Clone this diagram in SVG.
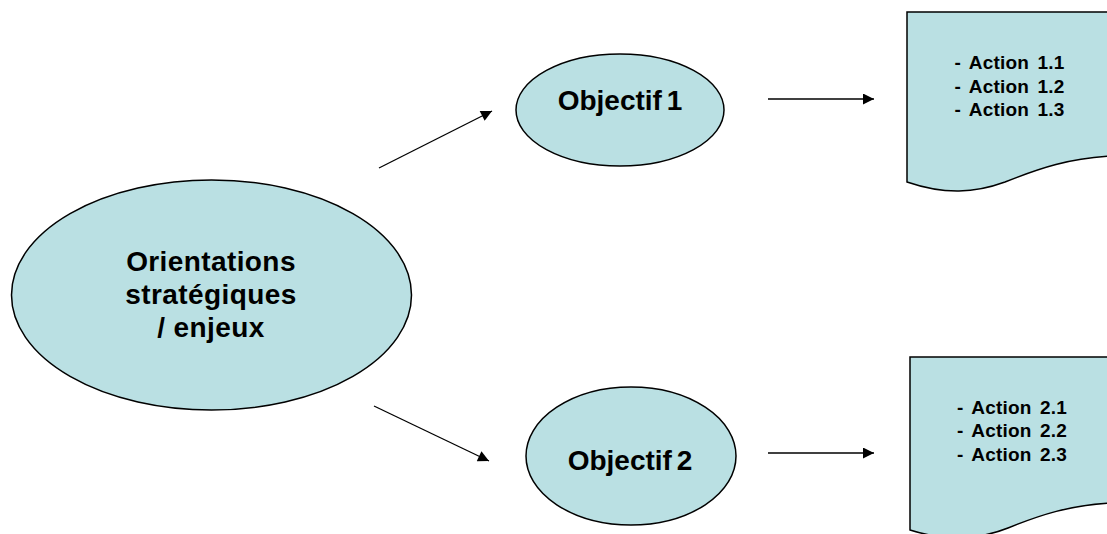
<svg xmlns="http://www.w3.org/2000/svg" width="1107" height="534" viewBox="0 0 1107 534">
<defs>
<style>
.shape{fill:#BAE0E3;stroke:#000;stroke-width:1.5}
.lbl{font-family:"Liberation Sans",Arial,sans-serif;font-weight:bold;fill:#000;text-anchor:middle}
.big{font-size:28px;letter-spacing:0.4px}
.obj{font-size:28px;word-spacing:-3px}
.small{font-size:19px;word-spacing:3px;letter-spacing:0.2px}
.conn{stroke:#000;stroke-width:1.3;fill:none;marker-end:url(#ah)}
</style>
<marker id="ah" viewBox="0 0 10 10" refX="10" refY="5" markerWidth="14" markerHeight="11" markerUnits="userSpaceOnUse" orient="auto">
<path d="M0,0 L10,5 L0,10 Z" fill="#000"/>
</marker>
</defs>
<rect width="1107" height="534" fill="#fff"/>
<g id="connectors">
<line class="conn" x1="379" y1="168" x2="492" y2="111"/>
<line class="conn" x1="374" y1="406" x2="489" y2="461"/>
<line class="conn" x1="768" y1="99" x2="874" y2="99"/>
<line class="conn" x1="768" y1="453" x2="874" y2="453"/>
</g>
<g id="orientations">
<ellipse class="shape" cx="211.5" cy="295" rx="200" ry="115"/>
<text class="lbl big" x="211" y="271">Orientations</text>
<text class="lbl big" x="211" y="304">stratégiques</text>
<text class="lbl big" x="211" y="337">/ enjeux</text>
</g>
<g id="objectif1">
<ellipse class="shape" cx="620" cy="110" rx="104" ry="56"/>
<text class="lbl obj" x="620" y="110">Objectif 1</text>
</g>
<g id="objectif2">
<ellipse class="shape" cx="631" cy="456" rx="105" ry="69"/>
<text class="lbl obj" x="630" y="470">Objectif 2</text>
</g>
<g id="actions1">
<path class="shape" d="M907,12 L1112,12 L1112,156 C1070,158 1040,168 1005,182 C975,193 945,195 907,182 Z"/>
<text class="lbl small" x="1009.5" y="69">- Action 1.1</text>
<text class="lbl small" x="1009.5" y="93">- Action 1.2</text>
<text class="lbl small" x="1009.5" y="116">- Action 1.3</text>
</g>
<g id="actions2">
<path class="shape" d="M910,357 L1112,357 L1112,503 C1070,505 1040,515 1008,528 C980,539 948,542 910,530 Z"/>
<text class="lbl small" x="1012" y="414">- Action 2.1</text>
<text class="lbl small" x="1012" y="437">- Action 2.2</text>
<text class="lbl small" x="1012" y="461">- Action 2.3</text>
</g>
</svg>
